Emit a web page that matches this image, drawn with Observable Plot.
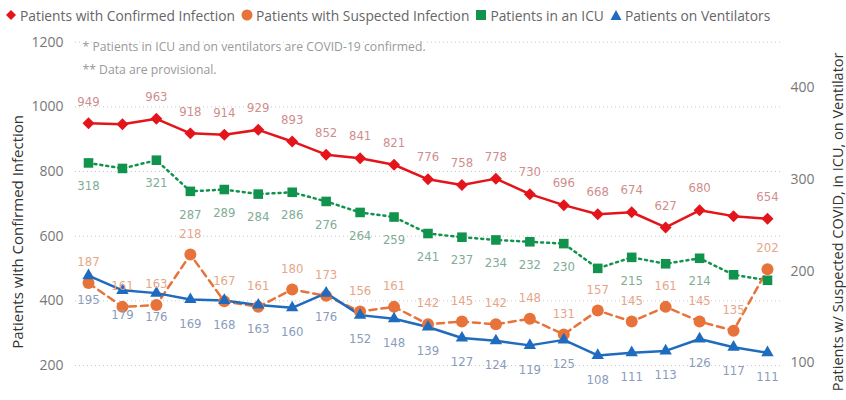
<!DOCTYPE html>
<html>
<head>
<meta charset="utf-8">
<script src="https://cdn.jsdelivr.net/npm/d3@7"></script>
<script src="https://cdn.jsdelivr.net/npm/@observablehq/plot@0.6"></script>
<style>
  body { margin: 0; background: #fff; font-family: "Open Sans", sans-serif; }
  #legend { height: 30px; display: flex; align-items: center; padding-left: 5px; font-size: 13.8px; color: #666; white-space: nowrap; }
  #legend .item { display: flex; align-items: center; margin-right: 6px; }
  #legend svg { margin-right: 3px; }
  #chart svg { display: block; }
</style>
</head>
<body>
<div id="legend"></div>
<div id="chart"></div>
<script>
// ---- data ----
const confirmed = [949, 946, 963, 918, 914, 929, 893, 852, 841, 821, 776, 758, 778, 730, 696, 668, 674, 627, 680, 662, 654];
const suspected = [187, 161, 163, 218, 167, 161, 180, 173, 156, 161, 142, 145, 142, 148, 131, 157, 145, 161, 145, 135, 202];
const icu       = [318, 312, 321, 287, 289, 284, 286, 276, 264, 259, 241, 237, 234, 232, 230, 203, 215, 208, 214, 196, 190];
const vent      = [195, 179, 176, 169, 168, 163, 160, 176, 152, 148, 139, 127, 124, 119, 125, 108, 111, 113, 126, 117, 111];
const confirmedHiddenLabels = [1, 19];
const icuHiddenLabels = [1, 15, 17, 19, 20];
const leftTicks = [200, 400, 600, 800, 1000, 1200];
const rightTicks = [100, 200, 300, 400];
const seriesNames = ["Patients with Confirmed Infection", "Patients with Suspected Infection", "Patients in an ICU", "Patients on Ventilators"];
const seriesColors = ["#e3151b", "#e8733a", "#11934e", "#1f6cbf"];
const seriesSymbols = ["diamond", "circle", "square", "triangle"];
const notes = ["* Patients in ICU and on ventilators are COVID-19 confirmed.", "** Data are provisional."];
const leftTitle = "Patients with Confirmed Infection";
const rightTitle = "Patients w/ Suspected COVID, in ICU, on Ventilator";

// ---- legend ----
const legend = document.getElementById("legend");
seriesNames.forEach((name, k) => {
  const item = document.createElement("div");
  item.className = "item";
  const c = seriesColors[k];
  let shape;
  if (seriesSymbols[k] === "diamond") shape = `<path d="M6,1 L11,6 L6,11 L1,6Z" fill="${c}"/>`;
  else if (seriesSymbols[k] === "circle") shape = `<circle cx="6" cy="6" r="5.5" fill="${c}"/>`;
  else if (seriesSymbols[k] === "square") shape = `<rect x="1" y="1" width="10" height="10" fill="${c}"/>`;
  else shape = `<path d="M6,1 L11.5,11 L0.5,11Z" fill="${c}"/>`;
  item.innerHTML = `<svg width="12" height="12">${shape}</svg><span>${name}</span>`;
  legend.appendChild(item);
});

// ---- scales: right-axis values mapped into left units ----
const toLeft = d3.scaleLinear().domain([97.05, 449.7]).range([200, 1200]);
const idx = d3.range(confirmed.length);
const labelFont = "'Liberation Sans Narrow', 'DejaVu Sans Condensed', sans-serif";

const chart = Plot.plot({
  width: 846,
  height: 370,
  marginTop: 11.7,
  marginBottom: 35,
  marginLeft: 75,
  marginRight: 66,
  style: { fontFamily: "'Open Sans', sans-serif", background: "white" },
  x: { domain: [-0.383, 20.383], axis: null },
  y: { domain: [200, 1200], axis: null },
  marks: [
    Plot.ruleY(leftTicks, { stroke: "#c8c8c8", strokeDasharray: "1,3" }),
    Plot.axisY({ anchor: "left", ticks: leftTicks, tickFormat: d => String(d), tickSize: 0, tickPadding: 12, label: null, fontSize: 14, fill: "#777" }),
    Plot.axisY({ anchor: "right", ticks: rightTicks.map(toLeft), tickFormat: d => String(Math.round(toLeft.invert(d))), tickSize: 0, tickPadding: 10, label: null, fontSize: 14, fill: "#777" }),
    Plot.text(notes.slice(0, 1), { frameAnchor: "top-left", dx: 7, textAnchor: "start", fontSize: 12.2, fill: "#999", stroke: "white", strokeWidth: 4 }),
    Plot.text(notes.slice(1, 2), { frameAnchor: "top-left", dx: 7, dy: 23.5, textAnchor: "start", fontSize: 12.2, fill: "#999" }),
    Plot.text([leftTitle], { frameAnchor: "left", textAnchor: "middle", rotate: -90, dx: -57, dy: 28, fontSize: 15, fill: "#333" }),
    Plot.text([rightTitle], { frameAnchor: "right", textAnchor: "middle", rotate: -90, dx: 58, dy: 18, fontSize: 14.5, fill: "#333" }),
    // lines
    Plot.line(idx, { x: i => i, y: i => toLeft(icu[i]), stroke: seriesColors[2], strokeWidth: 2.5, strokeDasharray: "2,4" }),
    Plot.line(idx, { x: i => i, y: i => toLeft(suspected[i]), stroke: seriesColors[1], strokeWidth: 2.5, strokeDasharray: "7,5" }),
    Plot.line(idx, { x: i => i, y: i => toLeft(vent[i]), stroke: seriesColors[3], strokeWidth: 2.5 }),
    Plot.line(idx, { x: i => i, y: i => confirmed[i], stroke: seriesColors[0], strokeWidth: 2.5 }),
    // markers
    Plot.dot(idx, { x: i => i, y: i => toLeft(icu[i]), symbol: "square", r: 5.4, fill: seriesColors[2] }),
    Plot.dot(idx, { x: i => i, y: i => toLeft(suspected[i]), symbol: "circle", r: 6, fill: seriesColors[1] }),
    Plot.dot(idx, { x: i => i, y: i => toLeft(vent[i]), symbol: "triangle", r: 4.6, fill: seriesColors[3] }),
    Plot.dot(idx, { x: i => i, y: i => confirmed[i], symbol: "diamond2", r: 5.4, fill: seriesColors[0] }),
    // labels
    Plot.text(idx.filter(i => !confirmedHiddenLabels.includes(i)), { x: i => i, y: i => confirmed[i], text: i => String(confirmed[i]), dy: -22, fontSize: 13, fontFamily: labelFont, fill: "#cf8e8e" }),
    Plot.text(idx, { x: i => i, y: i => toLeft(suspected[i]), text: i => String(suspected[i]), dy: -21, fontSize: 13, fontFamily: labelFont, fill: "#e6a688" }),
    Plot.text(idx.filter(i => !icuHiddenLabels.includes(i)), { x: i => i, y: i => toLeft(icu[i]), text: i => String(icu[i]), dy: 23, fontSize: 13, fontFamily: labelFont, fill: "#80ad96" }),
    Plot.text(idx, { x: i => i, y: i => toLeft(vent[i]), text: i => String(vent[i]), dy: 24, fontSize: 13, fontFamily: labelFont, fill: "#8a9cbc" })
  ]
});
document.getElementById("chart").appendChild(chart);
</script>
</body>
</html>
